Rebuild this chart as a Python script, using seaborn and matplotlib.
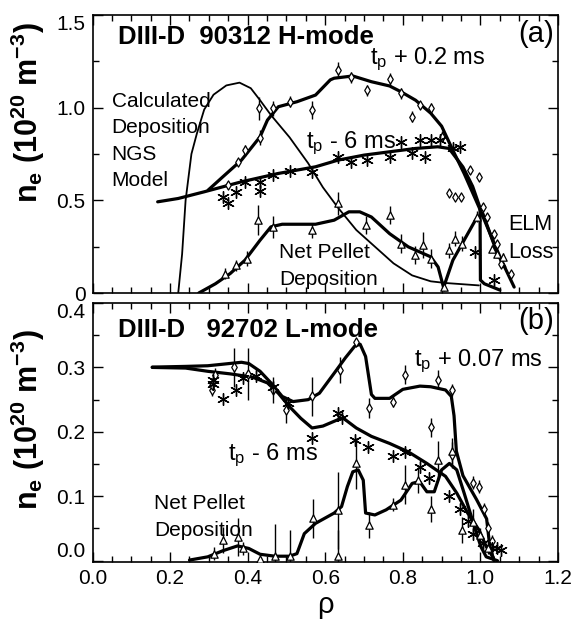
import numpy as np
import pandas as pd
import matplotlib
matplotlib.use('Agg')
import matplotlib.pyplot as plt
from matplotlib.ticker import MultipleLocator, FixedLocator, FixedFormatter
import seaborn as sns

# ---- panel (a): DIII-D 90312 H-mode ----
calc_x = [0.221, 0.231, 0.240, 0.255, 0.269, 0.288, 0.312, 0.345, 0.379, 0.408, 0.432, 0.460,
          0.508, 0.556, 0.594, 0.633, 0.680, 0.728, 0.776, 0.824, 0.872, 0.910, 0.996]
calc_y = [0.0, 0.21, 0.50, 0.75, 0.86, 0.99, 1.07, 1.12, 1.135, 1.105, 1.04, 0.96,
          0.84, 0.70, 0.57, 0.46, 0.34, 0.25, 0.16, 0.095, 0.063, 0.054, 0.041]

plus_a_x = [0.298, 0.336, 0.384, 0.432, 0.451, 0.479, 0.527, 0.575, 0.613, 0.623, 0.671, 0.719,
            0.766, 0.795, 0.833, 0.872, 0.900, 0.929, 0.958, 0.996, 1.025, 1.054, 1.087]
plus_a_y = [0.555, 0.627, 0.717, 0.843, 0.933, 1.005, 1.032, 1.068, 1.15, 1.159, 1.171, 1.14,
            1.117, 1.086, 1.04, 0.97, 0.90, 0.77, 0.645, 0.465, 0.32, 0.177, 0.032]

minus_a_x = [0.168, 0.221, 0.288, 0.384, 0.479, 0.575, 0.633, 0.700, 0.766, 0.833, 0.890, 0.919,
             0.955, 0.980, 0.999, 1.000, 1.010, 1.050]
minus_a_y = [0.492, 0.51, 0.546, 0.60, 0.645, 0.681, 0.717, 0.744, 0.762, 0.78, 0.789, 0.78,
             0.68, 0.575, 0.46, 0.07, 0.05, 0.016]

net_a_x = [0.274, 0.317, 0.355, 0.393, 0.432, 0.460, 0.489, 0.575, 0.623, 0.661, 0.689, 0.719,
           0.766, 0.814, 0.872, 0.891, 0.905, 0.929, 0.958, 0.987, 1.006, 1.025, 1.044, 1.063]
net_a_y = [0.0, 0.05, 0.105, 0.177, 0.285, 0.357, 0.371, 0.371, 0.393, 0.438, 0.438, 0.41,
           0.32, 0.249, 0.195, 0.14, 0.03, 0.177, 0.285, 0.393, 0.43, 0.32, 0.21, 0.14]

diam_a_x = [0.350, 0.374, 0.393, 0.432, 0.429, 0.465, 0.508, 0.566, 0.634, 0.666, 0.707, 0.766, 0.795, 0.824,
            0.843, 0.872, 0.900, 0.919, 0.934, 0.951, 0.972, 0.996, 1.006, 1.016, 1.035, 1.044, 1.054, 1.078]
diam_a_y = [0.582, 0.705, 0.771, 0.838, 0.996, 0.996, 1.032, 0.987, 1.204, 1.164, 1.095, 1.155, 1.077, 0.951,
            1.014, 0.996, 0.843, 0.537, 0.519, 0.519, 0.663, 0.627, 0.465, 0.411, 0.32, 0.267, 0.159, 0.105]
diam_a_err = [0.02, 0.02, 0.03, 0.04, 0.06, 0.04, 0.03, 0.05, 0.04, 0.03, 0.03, 0.03, 0.03, 0.03,
              0.02, 0.03, 0.03, 0.0, 0.0, 0.0, 0.02, 0.02, 0.02, 0.02, 0.02, 0.02, 0.01, 0.01]

star_a_x = [0.336, 0.350, 0.369, 0.393, 0.432, 0.432, 0.465, 0.508, 0.566, 0.634, 0.666, 0.707,
            0.766, 0.795, 0.824, 0.843, 0.857, 0.872, 0.896, 0.929, 0.948, 0.987, 1.035]
star_a_y = [0.519, 0.486, 0.546, 0.60, 0.60, 0.55, 0.636, 0.66, 0.654, 0.735, 0.708, 0.717,
            0.735, 0.816, 0.753, 0.825, 0.735, 0.825, 0.825, 0.78, 0.79, 0.22, 0.07]

tri_a_x = [0.341, 0.369, 0.398, 0.427, 0.465, 0.566, 0.634, 0.704, 0.766, 0.795, 0.832,
           0.853, 0.872, 0.905, 0.919, 0.934, 0.953, 0.991, 1.030, 1.044, 1.058]
tri_a_y = [0.105, 0.15, 0.186, 0.393, 0.357, 0.339, 0.483, 0.366, 0.42, 0.267, 0.204,
           0.258, 0.186, 0.032, 0.231, 0.294, 0.267, 0.411, 0.24, 0.21, 0.195]
tri_a_err = [0.03, 0.03, 0.04, 0.08, 0.06, 0.04, 0.06, 0.05, 0.05, 0.05, 0.05,
             0.07, 0.05, 0.02, 0.04, 0.04, 0.04, 0.03, 0.02, 0.02, 0.02]

# ---- panel (b): DIII-D 92702 L-mode ----
plus_b_x = [0.154, 0.240, 0.297, 0.336, 0.384, 0.403, 0.432, 0.460, 0.489, 0.517, 0.556, 0.585, 0.623,
            0.652, 0.676, 0.690, 0.704, 0.719, 0.728, 0.766, 0.800, 0.844, 0.872, 0.910, 0.925, 0.932,
            0.938, 0.955, 0.990, 1.016, 1.024, 1.035]
plus_b_y = [0.3005, 0.3016, 0.3026, 0.305, 0.308, 0.306, 0.294, 0.276, 0.255, 0.247, 0.25, 0.26, 0.291,
            0.315, 0.333, 0.336, 0.317, 0.258, 0.252, 0.252, 0.266, 0.271, 0.27, 0.265, 0.255, 0.225,
            0.17, 0.132, 0.095, 0.065, 0.023, 0.0]

minus_b_x = [0.154, 0.240, 0.297, 0.355, 0.412, 0.451, 0.479, 0.508, 0.537, 0.566, 0.594, 0.633,
             0.647, 0.680, 0.719, 0.766, 0.814, 0.862, 0.910, 0.939, 0.967, 0.996, 1.015, 1.034]
minus_b_y = [0.300, 0.299, 0.294, 0.29, 0.285, 0.276, 0.26, 0.239, 0.221, 0.206, 0.209, 0.219,
             0.221, 0.206, 0.193, 0.182, 0.169, 0.151, 0.131, 0.105, 0.074, 0.048, 0.022, 0.004]

net_b_x = [0.250, 0.297, 0.336, 0.374, 0.403, 0.432, 0.470, 0.508, 0.527, 0.546, 0.575, 0.623, 0.642,
           0.657, 0.671, 0.685, 0.698, 0.704, 0.728, 0.757, 0.795, 0.824, 0.843, 0.862, 0.881, 0.900,
           0.920, 0.939, 0.958, 0.982, 1.001, 1.015, 1.044]
net_b_y = [0.001, 0.006, 0.0155, 0.023, 0.019, 0.010, 0.007, 0.007, 0.011, 0.042, 0.058, 0.074, 0.084,
           0.115, 0.138, 0.141, 0.125, 0.074, 0.071, 0.079, 0.094, 0.12, 0.123, 0.107, 0.107, 0.141,
           0.151, 0.141, 0.105, 0.058, 0.022, 0.006, 0.0]

diam_b_x = [0.307, 0.307, 0.317, 0.365, 0.400, 0.465, 0.499, 0.566, 0.637, 0.678, 0.712, 0.774, 0.805,
            0.872, 0.891, 0.927, 0.927, 0.982, 0.996, 1.010, 1.020, 1.030]
diam_b_y = [0.265, 0.273, 0.289, 0.300, 0.290, 0.265, 0.234, 0.255, 0.296, 0.340, 0.237, 0.247, 0.289,
            0.207, 0.281, 0.265, 0.164, 0.121, 0.115, 0.080, 0.050, 0.030]
diam_b_err = [0.01, 0.01, 0.01, 0.03, 0.04, 0.02, 0.02, 0.03, 0.02, 0.005, 0.015, 0.008, 0.015,
              0.015, 0.015, 0.01, 0.02, 0.01, 0.01, 0.01, 0.01, 0.01]

star_b_x = [0.310, 0.310, 0.336, 0.369, 0.389, 0.422, 0.465, 0.503, 0.566, 0.633, 0.642, 0.676, 0.709,
            0.774, 0.805, 0.843, 0.867, 0.920, 0.948, 0.967, 0.982, 1.006, 1.030, 1.044, 1.054]
star_b_y = [0.281, 0.275, 0.251, 0.265, 0.283, 0.287, 0.270, 0.245, 0.190, 0.229, 0.221, 0.188, 0.177,
            0.162, 0.168, 0.146, 0.128, 0.100, 0.081, 0.061, 0.042, 0.027, 0.020, 0.019, 0.017]

tri_b_x = [0.312, 0.336, 0.374, 0.389, 0.432, 0.470, 0.508, 0.568, 0.634, 0.634, 0.678, 0.712, 0.774,
           0.805, 0.838, 0.872, 0.891, 0.927, 0.953, 0.980, 1.000, 1.020]
tri_b_y = [0.011, 0.032, 0.037, 0.019, 0.002, 0.007, 0.007, 0.066, 0.078, 0.007, 0.151, 0.055, 0.087,
           0.118, 0.125, 0.080, 0.156, 0.170, 0.048, 0.060, 0.040, 0.020]
tri_b_err = [0.01, 0.02, 0.03, 0.01, 0.0, 0.05, 0.04, 0.03, 0.06, 0.04, 0.04, 0.02, 0.01,
             0.03, 0.02, 0.02, 0.03, 0.02, 0.02, 0.02, 0.01, 0.01]

sns.set_theme(style='ticks')
plt.rcParams['font.family'] = ['Liberation Sans', 'DejaVu Sans']
plt.rcParams['mathtext.fontset'] = 'custom'
plt.rcParams['mathtext.rm'] = 'Liberation Sans'
plt.rcParams['mathtext.it'] = 'Liberation Sans'
plt.rcParams['mathtext.bf'] = 'Liberation Sans:bold'
plt.rcParams['text.color'] = 'black'
plt.rcParams['axes.labelcolor'] = 'black'

W, H = 584, 623
fig = plt.figure(figsize=(W / 100, H / 100), dpi=100)
ax1 = fig.add_axes([92.5 / W, (H - 293) / H, 465.5 / W, 278 / H])
ax2 = fig.add_axes([92.5 / W, (H - 562) / H, 465.5 / W, 259 / H])


def curve(ax, x, y, lw):
    df = pd.DataFrame({'x': x, 'y': y})
    sns.lineplot(data=df, x='x', y='y', ax=ax, sort=False, estimator=None,
                 color='black', linewidth=lw, solid_capstyle='round')


def points(ax, x, y, marker, size, err=None):
    if err is not None:
        e = np.array(err)
        m = e > 0
        ax.errorbar(np.array(x)[m], np.array(y)[m], yerr=e[m], fmt='none',
                    ecolor='black', elinewidth=1.0, capsize=0)
    df = pd.DataFrame({'x': x, 'y': y})
    sns.scatterplot(data=df, x='x', y='y', ax=ax, marker=marker, s=size,
                    facecolor='white', edgecolor='black', linewidth=0.9, zorder=3)


def star_points(ax, x, y):
    df = pd.DataFrame({'x': x, 'y': y})
    sns.scatterplot(data=df, x='x', y='y', ax=ax, marker=(6, 2, 0), s=70,
                    color='black', linewidth=1.0, zorder=3)


# panel (a)
curve(ax1, calc_x, calc_y, 1.3)
curve(ax1, plus_a_x, plus_a_y, 2.3)
curve(ax1, minus_a_x, minus_a_y, 2.3)
curve(ax1, net_a_x, net_a_y, 2.3)
points(ax1, diam_a_x, diam_a_y, 'd', 22, diam_a_err)
star_points(ax1, star_a_x, star_a_y)
points(ax1, tri_a_x, tri_a_y, '^', 28, tri_a_err)

# panel (b)
curve(ax2, plus_b_x, plus_b_y, 2.3)
curve(ax2, minus_b_x, minus_b_y, 2.3)
curve(ax2, net_b_x, net_b_y, 2.3)
points(ax2, diam_b_x, diam_b_y, 'd', 22, diam_b_err)
star_points(ax2, star_b_x, star_b_y)
points(ax2, tri_b_x, tri_b_y, '^', 28, tri_b_err)

for ax in (ax1, ax2):
    ax.set_xlim(0, 1.2)
    ax.xaxis.set_major_locator(MultipleLocator(0.2))
    ax.xaxis.set_minor_locator(MultipleLocator(0.05))
    ax.tick_params(which='both', direction='in', top=True, right=True, width=1.0,
                   labelsize=15, colors='black', pad=5)
    ax.tick_params(which='major', length=7)
    ax.tick_params(which='minor', length=4)
    for s in ax.spines.values():
        s.set_linewidth(1.2)
        s.set_color('black')

ax1.set_ylim(0, 1.5)
ax1.yaxis.set_major_locator(FixedLocator([0, 0.5, 1.0, 1.5]))
ax1.yaxis.set_major_formatter(FixedFormatter(['0', '0.5', '1.0', '1.5']))
ax1.yaxis.set_minor_locator(MultipleLocator(0.25))
ax1.tick_params(labelbottom=False)
ax1.set_xlabel('')

ax2.set_ylim(-0.002, 0.4)
ax2.yaxis.set_major_locator(FixedLocator([0, 0.1, 0.2, 0.3, 0.4]))
ax2.yaxis.set_major_formatter(FixedFormatter(['0.0', '0.1', '0.2', '0.3', '0.4']))
ax2.yaxis.set_minor_locator(MultipleLocator(0.05))
ax2.set_xlabel('ρ', fontsize=21, labelpad=2)

ylab = r'$\mathbf{n_e}$' + ' ' + r'$\mathbf{(10^{20}\ m^{-3})}$'
ax1.set_ylabel(ylab, fontsize=22, fontweight='bold')
ax2.set_ylabel(ylab, fontsize=22, fontweight='bold')
ax1.yaxis.set_label_coords(-0.098, 0.65)
ax2.yaxis.set_label_coords(-0.098, 0.55)

# annotations (a)
ax1.text(0.066, 1.38, 'DIII-D  90312 H-mode', fontsize=18.5, fontweight='bold', va='center')
ax1.text(1.19, 1.40, '(a)', fontsize=21, ha='right', va='center')
ax1.text(0.715, 1.26, r't$_\mathrm{p}$ + 0.2 ms', fontsize=17, va='center')
ax1.text(0.55, 0.81, r't$_\mathrm{p}$ - 6 ms', fontsize=17, va='center')
ax1.text(0.049, 0.82, 'Calculated\nDeposition\nNGS\nModel', fontsize=15, va='center',
         linespacing=1.5)
ax1.text(0.481, 0.145, 'Net Pellet\nDeposition', fontsize=15, va='center', linespacing=1.5)
ax1.text(1.073, 0.295, 'ELM\nLoss', fontsize=15.5, va='center', linespacing=1.45)

# annotations (b)
ax2.text(0.066, 0.358, 'DIII-D   92702 L-mode', fontsize=18.5, fontweight='bold', va='center')
ax2.text(1.19, 0.372, '(b)', fontsize=21, ha='right', va='center')
ax2.text(0.829, 0.309, r't$_\mathrm{p}$ + 0.07 ms', fontsize=17, va='center')
ax2.text(0.35, 0.164, r't$_\mathrm{p}$ - 6 ms', fontsize=17, va='center')
ax2.text(0.159, 0.068, 'Net Pellet\nDeposition', fontsize=15, va='center', linespacing=1.5)

# edge tick labels sit inside the panel span, as in the original
fig.canvas.draw()
ax1.yaxis.get_major_ticks()[-1].label1.set_verticalalignment('top')
ax2.yaxis.get_major_ticks()[-1].label1.set_verticalalignment('top')
ax2.yaxis.get_major_ticks()[0].label1.set_verticalalignment('bottom')

fig.savefig('out.png', dpi=100)
